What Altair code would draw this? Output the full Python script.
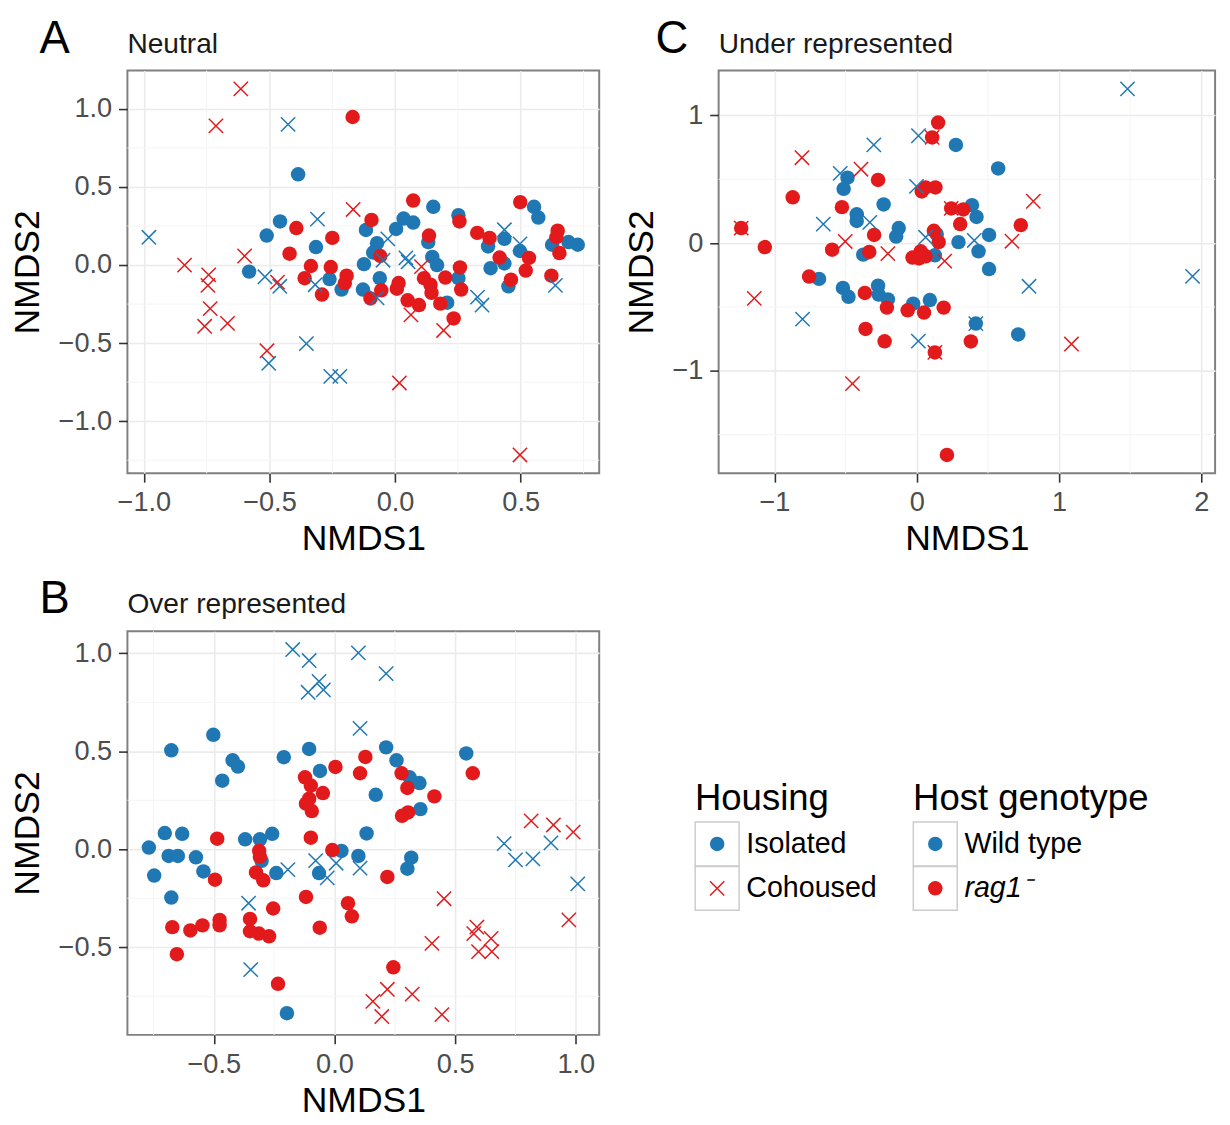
import altair as alt
import pandas as pd

FONT = "Liberation Sans"
BLUE = "#1f78b4"
RED = "#e31a1c"
XPATH = "M-1,-1L1,1M-1,1L1,-1"

# ---------------- Panel A : Neutral ----------------
A_WT_ISO = [(-0.386, 0.581), (-0.458, 0.279), (-0.511, 0.189), (-0.315, 0.115), (-0.581, -0.042),
            (0.152, 0.373), (0.252, 0.319), (0.553, 0.373), (0.570, 0.304), (-0.116, 0.225),
            (0.034, 0.298), (0.072, 0.272), (0.004, 0.231), (0.132, 0.147), (-0.072, 0.140),
            (-0.087, 0.080), (0.148, 0.052), (0.167, 0.000), (-0.124, 0.006), (0.370, 0.119),
            (0.435, 0.168), (0.497, 0.090), (0.435, 0.010), (0.625, 0.130), (0.690, 0.147),
            (0.727, 0.130), (0.380, -0.020), (-0.261, -0.090), (-0.213, -0.157), (-0.128, -0.157),
            (-0.061, -0.084), (0.252, -0.084), (0.207, -0.241), (0.451, -0.136)]
A_WT_COH = [(-0.426, 0.901), (-0.309, 0.294), (-0.980, 0.178), (-0.518, -0.075), (-0.459, -0.136),
            (-0.503, -0.629), (-0.353, -0.503), (-0.256, -0.713), (-0.220, -0.713), (-0.318, -0.126),
            (-0.029, 0.168), (-0.048, 0.031), (0.043, 0.046), (0.052, 0.021), (0.435, 0.226),
            (0.497, 0.136), (-0.072, -0.210), (0.638, -0.130), (0.328, -0.205), (0.346, -0.256)]
A_RAG_ISO = [(-0.169, 0.948), (-0.393, 0.237), (-0.250, 0.174), (-0.420, 0.073), (-0.335, -0.006),
             (-0.256, -0.013), (-0.360, -0.084), (-0.193, -0.068), (-0.200, -0.115), (-0.291, -0.189),
             (-0.098, -0.214), (0.072, 0.413), (0.256, 0.279), (0.498, 0.403), (-0.094, 0.289),
             (0.135, 0.189), (-0.059, 0.058), (0.327, 0.206), (0.376, 0.174), (0.416, 0.048),
             (0.533, 0.046), (0.647, 0.220), (0.642, 0.178), (0.654, 0.077), (0.258, -0.015),
             (0.520, -0.035), (0.622, -0.068), (-0.055, -0.162), (0.014, -0.115), (0.007, -0.151),
             (0.050, -0.226), (0.095, -0.256), (0.115, -0.084), (0.141, -0.126), (0.145, -0.178),
             (0.200, -0.080), (0.263, -0.157), (0.180, -0.247), (0.233, -0.342), (0.461, -0.094)]
A_RAG_COH = [(-0.614, 1.128), (-0.713, 0.891), (-0.167, 0.356), (-0.838, 0.000), (-0.742, -0.063),
             (-0.745, -0.130), (-0.736, -0.279), (-0.758, -0.392), (-0.667, -0.373), (-0.599, 0.058),
             (-0.468, -0.109), (-0.510, -0.549), (0.105, -0.010), (0.063, -0.319), (0.193, -0.419),
             (0.017, -0.755), (0.497, -1.216)]

# ---------------- Panel C : Under represented ----------------
C_WT_ISO = [(0.275, 0.769), (-0.487, 0.513), (-0.514, 0.425), (-0.233, 0.303), (-0.422, 0.226),
            (-0.422, 0.174), (-0.127, 0.118), (-0.145, 0.051), (-0.376, -0.090), (0.127, -0.095),
            (0.293, 0.008), (-0.687, -0.280), (0.572, 0.585), (0.388, 0.297), (0.420, 0.205),
            (0.508, 0.064), (0.434, -0.064), (0.508, -0.203), (-0.519, -0.351), (-0.480, -0.420),
            (-0.272, -0.333), (-0.268, -0.403), (-0.203, -0.441), (-0.025, -0.474), (0.092, -0.446),
            (0.415, -0.630), (0.713, -0.715), (0.140, 0.070)]
C_WT_COH = [(0.012, 0.841), (-0.302, 0.769), (-0.538, 0.546), (-0.002, 0.444), (-0.330, 0.162),
            (-0.657, 0.149), (0.062, 0.046), (1.481, 1.208), (0.404, 0.021), (1.938, -0.260),
            (-0.803, -0.595), (0.011, -0.767), (0.415, -0.630), (0.789, -0.338)]
C_RAG_ISO = [(0.150, 0.944), (0.108, 0.828), (-0.272, 0.495), (-0.872, 0.359), (0.035, 0.405),
             (0.062, 0.436), (0.131, 0.436), (-0.526, 0.282), (-1.234, 0.118), (-1.068, -0.031),
             (-0.300, 0.064), (-0.595, -0.051), (-0.334, -0.069), (0.120, 0.097), (0.154, 0.008),
             (-0.030, -0.113), (0.028, -0.064), (0.062, -0.103), (0.016, -0.120), (0.242, 0.272),
             (0.327, 0.264), (0.305, 0.149), (0.731, 0.141), (-0.757, -0.262), (-0.365, -0.390),
             (-0.210, -0.505), (-0.064, -0.526), (0.051, -0.544), (0.189, -0.505), (-0.360, -0.672),
             (-0.226, -0.769), (0.127, -0.856), (0.212, -1.659), (0.380, -0.770)]
C_RAG_COH = [(0.108, 0.828), (-0.807, 0.669), (-0.392, 0.579), (-1.234, 0.118), (-0.503, 0.013),
             (-0.203, -0.082), (0.196, -0.141), (0.242, 0.272), (0.819, 0.328), (0.669, 0.015),
             (-1.142, -0.433), (0.127, -0.856), (-0.452, -1.100), (1.087, -0.790)]

# ---------------- Panel B : Over represented ----------------
B_WT_ISO = [(-0.502, 0.584), (-0.676, 0.505), (-0.422, 0.454), (-0.400, 0.422), (-0.465, 0.350),
            (-0.210, 0.470), (-0.105, 0.512), (-0.060, 0.400), (0.214, 0.520), (0.257, 0.454),
            (0.311, 0.367), (0.352, 0.338), (0.171, 0.278), (0.356, 0.205), (0.546, 0.489),
            (0.133, 0.081), (-0.703, 0.083), (-0.631, 0.079), (-0.769, 0.009), (-0.687, -0.034),
            (-0.649, -0.034), (-0.574, -0.041), (-0.747, -0.134), (-0.543, -0.113), (-0.676, -0.246),
            (-0.370, 0.051), (-0.309, 0.051), (-0.258, 0.079), (-0.302, -0.059), (-0.241, -0.121),
            (-0.197, -0.836), (0.029, -0.008), (0.099, -0.034), (-0.064, -0.121), (0.318, -0.043),
            (0.302, -0.099)]
B_WT_COH = [(-0.173, 1.019), (-0.105, 0.963), (-0.064, 0.856), (-0.046, 0.813), (-0.109, 0.801),
            (0.099, 1.002), (0.106, 0.617), (0.214, 0.896), (-0.193, -0.104), (-0.356, -0.275),
            (-0.347, -0.614), (-0.078, -0.058), (0.007, -0.071), (-0.030, -0.146), (0.106, -0.096),
            (0.703, 0.029), (0.750, -0.054), (0.822, -0.049), (0.897, 0.033), (1.008, -0.176)]
B_RAG_ISO = [(0.004, 0.420), (-0.122, 0.367), (-0.098, 0.325), (-0.048, 0.287), (-0.105, 0.258),
             (-0.118, 0.233), (-0.094, 0.195), (0.128, 0.471), (0.106, 0.388), (0.278, 0.388),
             (0.302, 0.313), (0.414, 0.270), (0.280, 0.171), (0.305, 0.188), (0.573, 0.388),
             (-0.486, 0.054), (-0.495, -0.155), (-0.672, -0.397), (-0.597, -0.414), (-0.547, -0.388),
             (-0.476, -0.360), (-0.476, -0.388), (-0.653, -0.535), (-0.312, -0.008), (-0.309, -0.038),
             (-0.325, -0.118), (-0.295, -0.158), (-0.254, -0.302), (-0.350, -0.355), (-0.350, -0.418),
             (-0.313, -0.430), (-0.271, -0.444), (-0.234, -0.686), (-0.098, 0.059), (-0.009, -0.004),
             (-0.118, -0.243), (-0.061, -0.400), (0.056, -0.275), (0.072, -0.342), (0.219, -0.141),
             (0.244, -0.602)]
B_RAG_COH = [(0.815, 0.145), (0.907, 0.124), (0.989, 0.088), (0.454, -0.252), (0.404, -0.480),
             (0.219, -0.714), (0.159, -0.776), (0.196, -0.853), (0.322, -0.739), (0.445, -0.843),
             (0.590, -0.397), (0.577, -0.430), (0.649, -0.455), (0.597, -0.522), (0.652, -0.522),
             (0.971, -0.360)]

# ticks
A_XTICKS = [-1.0, -0.5, 0.0, 0.5]
A_YTICKS = [-1.0, -0.5, 0.0, 0.5, 1.0]
A_XMINOR = [-0.75, -0.25, 0.25, 0.75]
A_YMINOR = [-1.25, -0.75, -0.25, 0.25, 0.75]
C_XTICKS = [-1, 0, 1, 2]
C_YTICKS = [-1, 0, 1]
C_XMINOR = [-0.5, 0.5, 1.5]
C_YMINOR = [-1.5, -0.5, 0.5]
B_XTICKS = [-0.5, 0.0, 0.5, 1.0]
B_YTICKS = [-0.5, 0.0, 0.5, 1.0]
B_XMINOR = [-0.75, -0.25, 0.25, 0.75]
B_YMINOR = [-0.75, -0.25, 0.25, 0.75]

GENO_DOMAIN = ["Wild type", "rag1"]
GENO_RANGE = [BLUE, RED]


def panel_df(wt_iso, wt_coh, rag_iso, rag_coh):
    rows = []
    for pts, g, h in [(wt_iso, "Wild type", "Isolated"), (wt_coh, "Wild type", "Cohoused"),
                      (rag_iso, "rag1", "Isolated"), (rag_coh, "rag1", "Cohoused")]:
        for x, y in pts:
            rows.append({"x": x, "y": y, "geno": g, "house": h})
    return pd.DataFrame(rows)


def expand(vals):
    lo, hi = min(vals), max(vals)
    pad = 0.05 * (hi - lo)
    return [lo - pad, hi + pad]


def make_panel(df, letter, title, xt, yt, xm, ym, fmt, width, height, letter_dx):
    xs = alt.Scale(domain=expand(df["x"]), nice=False, zero=False)
    ys = alt.Scale(domain=expand(df["y"]), nice=False, zero=False)
    lab = "replace(format(datum.value, '%s'), '-', '\u2212')" % fmt
    xax = alt.Axis(values=xt, labelExpr=lab, title="NMDS1")
    yax = alt.Axis(values=yt, labelExpr=lab, title="NMDS2")
    cs = alt.Scale(domain=GENO_DOMAIN, range=GENO_RANGE)

    xminor = alt.Chart(pd.DataFrame({"v": xm})).mark_rule(color="#f4f4f4", strokeWidth=1).encode(
        x=alt.X("v:Q", scale=xs, axis=xax))
    yminor = alt.Chart(pd.DataFrame({"v": ym})).mark_rule(color="#f4f4f4", strokeWidth=1).encode(
        y=alt.Y("v:Q", scale=ys, axis=yax))
    base = alt.Chart(df)
    circ = base.transform_filter(alt.datum.house == "Isolated").mark_circle(size=215, opacity=1).encode(
        x=alt.X("x:Q", scale=xs, axis=xax),
        y=alt.Y("y:Q", scale=ys, axis=yax),
        color=alt.Color("geno:N", scale=cs, legend=None))
    crs = base.transform_filter(alt.datum.house == "Cohoused").mark_point(
        shape=XPATH, size=210, filled=False, strokeWidth=1.5, opacity=1).encode(
        x=alt.X("x:Q", scale=xs, axis=xax),
        y=alt.Y("y:Q", scale=ys, axis=yax),
        color=alt.Color("geno:N", scale=cs, legend=None))
    let = alt.Chart(pd.DataFrame({"t": [letter]})).mark_text(
        align="left", baseline="alphabetic", fontSize=46, font=FONT, color="black").encode(
        x=alt.value(letter_dx), y=alt.value(-18), text="t:N")
    sub = alt.Chart(pd.DataFrame({"t": [title]})).mark_text(
        align="left", baseline="alphabetic", fontSize=28.5, font=FONT, color="#1a1a1a").encode(
        x=alt.value(0), y=alt.value(-18), text="t:N")
    return alt.layer(xminor, yminor, circ, crs, let, sub).properties(
        width=width, height=height,
        view=alt.ViewBackground(stroke="#808080", strokeWidth=2))


dfA = panel_df(A_WT_ISO, A_WT_COH, A_RAG_ISO, A_RAG_COH)
dfC = panel_df(C_WT_ISO, C_WT_COH, C_RAG_ISO, C_RAG_COH)
dfB = panel_df(B_WT_ISO, B_WT_COH, B_RAG_ISO, B_RAG_COH)

pA = make_panel(dfA, "A", "Neutral", A_XTICKS, A_YTICKS, A_XMINOR, A_YMINOR, ".1f", 478, 408, -89)
pC = make_panel(dfC, "C", "Under represented", C_XTICKS, C_YTICKS, C_XMINOR, C_YMINOR, "d", 503, 408, -64)
pB = make_panel(dfB, "B", "Over represented", B_XTICKS, B_YTICKS, B_XMINOR, B_YMINOR, ".1f", 478, 409, -89)

# ---------------- Legend ----------------
LEG_GROUPS = ["Housing", "Host genotype"]
LEG_ROWS = list(range(-3, 5))
LEG_ITEM_GROUP = ["Housing", "Housing", "Host genotype", "Host genotype"]
LEG_ITEM_ROW = [1, 2, 1, 2]
LEG_ITEM_LABEL = ["Isolated", "Cohoused", "Wild type", "rag1\u207b"]
LEG_ITEM_KEY = ["Isolated", "Cohoused", "Wild type", "rag1"]
LEG_ITEM_SHAPE = ["circle", "cross", "circle", "circle"]

titles = pd.DataFrame({"group": LEG_GROUPS, "row": [0, 0], "label": LEG_GROUPS})
items = pd.DataFrame({"group": LEG_ITEM_GROUP, "row": LEG_ITEM_ROW, "label": LEG_ITEM_LABEL,
                      "key": LEG_ITEM_KEY, "shape": LEG_ITEM_SHAPE})

lx = alt.X("group:N", scale=alt.Scale(type="band", domain=LEG_GROUPS, paddingInner=0, paddingOuter=0),
           axis=None, bandPosition=0)
ly = alt.Y("row:O", scale=alt.Scale(type="band", domain=LEG_ROWS, paddingInner=0, paddingOuter=0.5,
                                    align=0.29), axis=None)
kc = alt.Color("key:N", scale=alt.Scale(domain=["Isolated", "Cohoused", "Wild type", "rag1"],
                                        range=["black", "black", BLUE, RED]), legend=None)

ib = alt.Chart(items)
boxes = ib.mark_square(size=1980, fill="white", stroke="#cccccc", strokeWidth=1.5, opacity=1,
                       xOffset=22.5).encode(x=lx, y=ly)
kcirc = ib.transform_filter(alt.datum.shape == "circle").mark_circle(size=215, opacity=1, xOffset=22.5).encode(
    x=lx, y=ly, color=kc)
kcross = ib.transform_filter(alt.datum.shape == "cross").mark_point(
    shape=XPATH, size=210, filled=False, strokeWidth=1.5, opacity=1, xOffset=22.5).encode(x=lx, y=ly, color=kc)
labs = ib.transform_filter(alt.datum.key != "rag1").mark_text(
    align="left", baseline="middle", dx=52, fontSize=29, font=FONT, color="black").encode(x=lx, y=ly, text="label:N")
labs_it = ib.transform_filter(alt.datum.key == "rag1").mark_text(
    align="left", baseline="middle", dx=52, fontSize=29, font=FONT, fontStyle="italic", color="black").encode(
    x=lx, y=ly, text="label:N")
ttl = alt.Chart(titles).mark_text(align="left", baseline="middle", fontSize=37, font=FONT, color="black").encode(
    x=lx, y=ly, text="label:N")

legend = alt.layer(boxes, kcirc, kcross, labs, labs_it, ttl).properties(
    width=442, height=45 * (len(LEG_ROWS) + 1), view=alt.ViewBackground(stroke="transparent"))

top = alt.hconcat(pA, pC, spacing=21)
bottom = alt.hconcat(pB, legend, spacing=91)
chart = alt.vconcat(top, bottom, spacing=18).configure_axis(
    labelFont=FONT, labelFontSize=27.5, labelColor="#4d4d4d",
    titleFont=FONT, titleFontSize=36, titleFontWeight="normal", titleColor="black",
    tickColor="#333333", tickWidth=1.6, tickSize=9, domain=False,
    gridColor="#ebebeb", gridWidth=1.6, labelPadding=7
).configure_axisX(titlePadding=6).configure_axisY(titlePadding=12).configure_view(
    stroke="transparent").properties(background="white", padding={"left": 0, "top": 0, "right": 5, "bottom": 5})

chart.save("out.html", embed_options={"renderer": "svg", "actions": False})
